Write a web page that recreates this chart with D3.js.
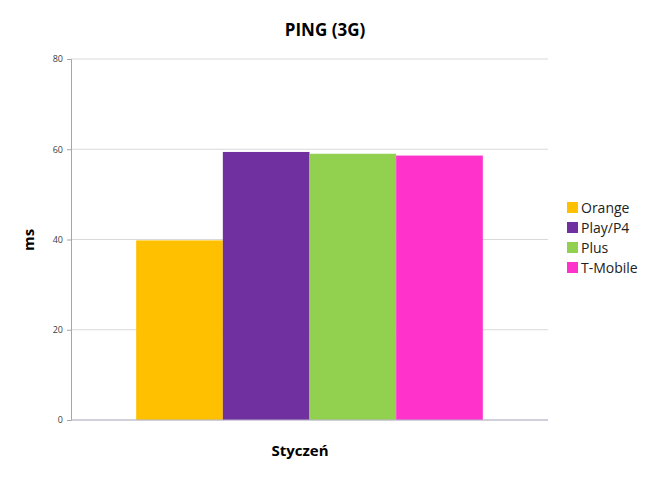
<!DOCTYPE html>
<html>
<head>
<meta charset="utf-8">
<script src="https://cdn.jsdelivr.net/npm/d3@7"></script>
<style>
  body { margin: 0; background: #fff; }
  svg { font-family: "Open Sans", "Liberation Sans", sans-serif; }
</style>
</head>
<body>
<div id="chart"></div>
<script>
// chart data
const categories = ['Styczeń'];
const seriesNames = ['Orange', 'Play/P4', 'Plus', 'T-Mobile'];
const seriesValues = [39.8, 59.4, 59.0, 58.6];
const seriesColors = ['#FFC000', '#7030A0', '#92D050', '#FF33CC'];
const yTicks = [0, 20, 40, 60, 80];

const W = 655, H = 478;
const margin = { top: 59, right: 107, bottom: 58, left: 71 };
const width = W - margin.left - margin.right;
const height = H - margin.top - margin.bottom;

const svg = d3.select('#chart').append('svg')
  .attr('width', W)
  .attr('height', H);

const g = svg.append('g')
  .attr('transform', `translate(${margin.left},${margin.top})`);

const x0 = d3.scaleBand()
  .domain(categories)
  .range([0, width])
  .paddingInner(0)
  .paddingOuter(0.188);

const x1 = d3.scaleBand()
  .domain(seriesNames)
  .range([0, x0.bandwidth()])
  .padding(0);

const y = d3.scaleLinear()
  .domain([0, 80])
  .range([height, 0]);

// gridlines
g.selectAll('.grid')
  .data(yTicks)
  .enter().append('line')
  .attr('x1', 0)
  .attr('x2', width)
  .attr('y1', d => y(d))
  .attr('y2', d => y(d))
  .attr('stroke', '#d9d9d9')
  .attr('stroke-width', 1);

// bars
const data = seriesNames.map((name, i) => ({ name, value: seriesValues[i], color: seriesColors[i] }));
g.selectAll('.bar')
  .data(data)
  .enter().append('rect')
  .attr('class', 'bar')
  .attr('x', d => x0(categories[0]) + x1(d.name))
  .attr('y', d => y(d.value))
  .attr('width', x1.bandwidth())
  .attr('height', d => height - y(d.value))
  .attr('fill', d => d.color);

// y axis
const yAxis = g.append('g')
  .call(d3.axisLeft(y).tickValues(yTicks).tickSize(4).tickPadding(4));
yAxis.select('.domain').attr('stroke', '#a6a6a6');
yAxis.selectAll('.tick line').attr('stroke', '#a6a6a6');
yAxis.selectAll('.tick text')
  .attr('fill', '#404040')
  .style('font-size', '9px')
  .style('font-family', '"Open Sans", sans-serif');

// bottom axis line
g.append('line')
  .attr('x1', 0)
  .attr('x2', width)
  .attr('y1', height)
  .attr('y2', height)
  .attr('stroke', '#b4b4c8');

// title
svg.append('text')
  .attr('x', 325)
  .attr('y', 36)
  .attr('text-anchor', 'middle')
  .style('font-size', '17px')
  .style('font-weight', 'bold')
  .text('PING (3G)');

// y label
svg.append('text')
  .attr('transform', 'rotate(-90)')
  .attr('x', -240)
  .attr('y', 34)
  .attr('text-anchor', 'middle')
  .style('font-size', '15px')
  .style('font-weight', 'bold')
  .text('ms');

// x label
svg.append('text')
  .attr('x', 300)
  .attr('y', 456)
  .attr('text-anchor', 'middle')
  .style('font-size', '15px')
  .style('font-weight', 'bold')
  .text(categories[0]);

// legend
const legend = svg.append('g')
  .attr('transform', 'translate(567,202)');
const item = legend.selectAll('.item')
  .data(data)
  .enter().append('g')
  .attr('transform', (d, i) => `translate(0,${i * 20})`);
item.append('rect')
  .attr('width', 11)
  .attr('height', 11)
  .attr('fill', d => d.color);
item.append('text')
  .attr('x', 14)
  .attr('y', 11)
  .style('font-size', '14px')
  .attr('fill', '#222')
  .text(d => d.name);
</script>
</body>
</html>
